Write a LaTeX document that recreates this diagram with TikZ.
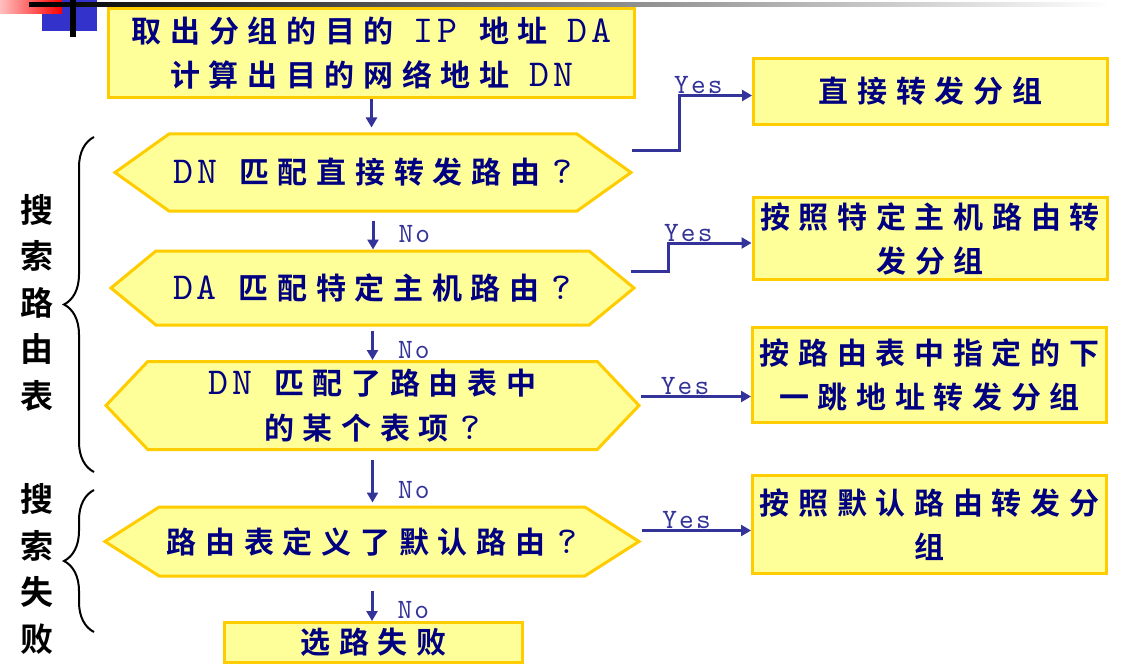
\documentclass[tikz,border=0pt]{standalone}
\usepackage{fontspec}
\usepackage{xcolor}
\usetikzlibrary{arrows.meta, positioning, shapes.symbols, decorations.pathreplacing}
\newfontfamily\cjk[BoldFont={Noto Sans CJK SC Bold}, LetterSpace=29]{Noto Sans CJK SC}
\newfontfamily\latfont[LetterSpace=9]{lmmono10-regular.otf}
\newcommand\lat[1]{{\latfont\fontsize{38}{44}\selectfont #1}}
\newfontfamily\ynfont[LetterSpace=8]{lmmono10-regular.otf}
\definecolor{clrBox}{HTML}{FFFF99}
\definecolor{clrBoxBd}{HTML}{FFCC00}
\definecolor{clrTxt}{HTML}{000080}
\definecolor{clrArr}{HTML}{333399}
\definecolor{clrBlk}{HTML}{3333CC}

\begin{document}
\begin{tikzpicture}[x=1pt, y=-1pt,
  box/.style={rectangle, draw=clrBoxBd, fill=clrBox, line width=3pt,
        text=clrTxt, font=\cjk\bfseries\fontsize{30}{44}\selectfont,
        align=center, inner sep=1pt},
  cond/.style={signal, signal to=west and east, draw=clrBoxBd, fill=clrBox,
        line width=3pt, text=clrTxt,
        font=\cjk\bfseries\fontsize{30}{45}\selectfont,
        align=center, inner sep=1pt},
  flow/.style={draw=clrArr, line width=3pt, -{Triangle[length=10pt, width=11pt]}},
  yn/.style={text=clrArr, font=\ynfont\fontsize{28}{28}\selectfont, inner sep=0pt},
  side/.style={font=\cjk\bfseries\fontsize{33}{46.5}\selectfont, align=center, inner sep=0pt},
  brc/.style={decorate, decoration={brace, amplitude=30pt}, line width=2pt}]
  \useasboundingbox (0,0) rectangle (1137,671);

  % corner mark
  \fill[clrBlk] (42,0) rectangle (97,31);
  \shade[left color=red!25, right color=red] (0,0) rectangle (62,14);
  \shade[left color=black, right color=white] (29,2.5) rectangle (1110,6.5);
  \fill[black] (70,0) rectangle (76,37);

  % main chain
  \node[box, minimum width=526pt, minimum height=89pt] (src) at (371.5,53)
    {取出分组的目的\hspace{20pt}\lat{IP}\hspace{22pt}地址\hspace{20pt}\lat{DA}\\
     计算出目的网络地址\hspace{20pt}\lat{DN}};
  \node[cond, minimum width=516pt, minimum height=77pt, signal pointer angle=71]
    (h1) at (373,172.5) {\lat{DN}\hspace{22pt}匹配直接转发路由\hspace{12pt}\lat{?}};
  \node[cond, minimum width=523pt, minimum height=74pt, signal pointer angle=79]
    (h2) at (372.5,288) {\lat{DA}\hspace{22pt}匹配特定主机路由\hspace{12pt}\lat{?}};
  \node[cond, minimum width=533pt, minimum height=88pt, signal pointer angle=93]
    (h3) at (372.5,405.5) {\lat{DN}\hspace{22pt}匹配了路由表中\\的某个表项\hspace{12pt}\lat{?}\hspace{24pt}};
  \node[cond, minimum width=534pt, minimum height=69pt, signal pointer angle=65]
    (h4) at (372,541.5) {路由表定义了默认路由\hspace{12pt}\lat{?}};
  \node[box, minimum width=298pt, minimum height=40pt] (fail) at (373.5,642.5) {选路失败};

  % right column
  \node[box, minimum width=354pt, minimum height=66pt] (r1) at (930.5,91.5) {直接转发分组};
  \node[box, minimum width=354pt, minimum height=82pt] (r2) at (930,238.5)
    {按照特定主机路由转\\发分组};
  \node[box, minimum width=354pt, minimum height=95pt] (r3) at (929.5,375)
    {按路由表中指定的下\\一跳地址转发分组};
  \node[box, minimum width=354pt, minimum height=98pt] (r4) at (929.5,524.5)
    {按照默认路由转发分\\组};

  % side labels
  \node[side] (lbl1) at (37,302.5) {搜\\索\\路\\由\\表};
  \node[side] (lbl2) at (37,569) {搜\\索\\失\\败};
  \coordinate (b1t) at (94,137);
  \coordinate (b1b) at (94,472);
  \coordinate (b2t) at (94,490);
  \coordinate (b2b) at (94,632);
  \draw[brc] (b1b) -- (b1t);
  \draw[brc] (b2b) -- (b2t);

  % no
  \draw[flow, shorten >=5pt] (src.south) -- (src.south |- h1.north);
  \draw[flow, shorten <=8pt] (h1.south) -- node[yn, right=24pt, pos=0.58]{No} (h1.south |- h2.north);
  \draw[flow, shorten <=4pt] (h2.south) -- node[yn, right=24pt, pos=0.7]{No} (h2.south |- h3.north);
  \draw[flow, shorten <=9pt, shorten >=3pt] (h3.south) -- node[yn, right=24pt, pos=0.71]{No} (h3.south |- h4.north);
  \draw[flow, shorten <=13pt] (h4.south) -- node[yn, right=24pt, pos=0.75]{No} (h4.south |- fail.north);

  % yes
  \draw[flow] ([shift={(-2,-22)}]h1.east) -- ++(48,0)
    |- node[yn, pos=0.63, anchor=base, yshift=2pt]{Yes} ([yshift=-4pt]r1.west);
  \draw[flow] ([shift={(-5,-17)}]h2.east) -- ++(37,0)
    |- node[yn, pos=0.62, anchor=base, yshift=2pt]{Yes} ([yshift=-4.5pt]r2.west);
  \coordinate (y3) at ([yshift=9pt]h3.east);
  \coordinate (y4) at ([yshift=11pt]h4.east);
  \draw[flow] (y3) -- node[yn, pos=0.4, anchor=base, yshift=2pt]{Yes} (y3 -| r3.west);
  \draw[flow] (y4) -- node[yn, pos=0.41, anchor=base, yshift=2pt]{Yes} (y4 -| r4.west);
\end{tikzpicture}
\end{document}
